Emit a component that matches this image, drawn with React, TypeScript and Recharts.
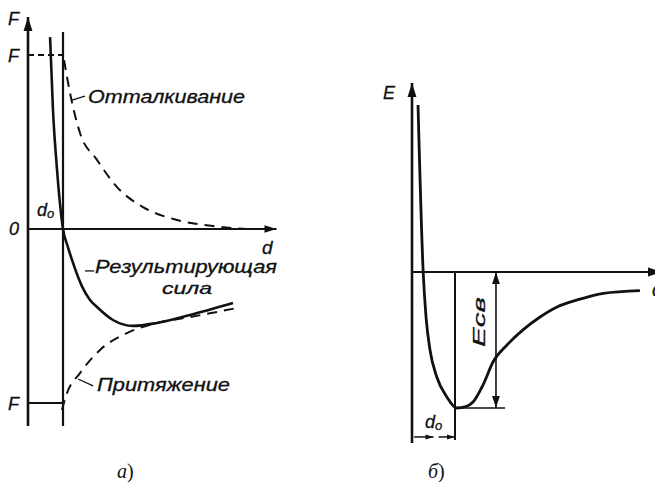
import React from 'react';
import { LineChart, Line, XAxis, YAxis, ReferenceLine } from 'recharts';

// Panel a: forces vs distance (d0 = 1, F = 10)
const resultantD = [0.63, 0.714, 0.83, 1.0, 1.143, 1.286, 1.543, 1.771, 1.971, 2.429, 3.0, 3.686, 4.629, 5.857];
const resultantF = [11.03, 6.84, 3.39, 0, -1.05, -1.95, -3.3, -4.08, -4.48, -5.23, -5.57, -5.4, -4.94, -4.25];
const repulsionD = [1.03, 1.2, 1.486, 1.971, 2.543, 3.286, 4.257, 5.286, 6.257];
const repulsionF = [9.71, 7.82, 5.52, 3.97, 2.41, 1.26, 0.52, 0.17, 0.0];
const attractionD = [0.97, 1.114, 1.486, 2.057, 2.829, 3.686, 4.629, 5.971];
const attractionF = [-10.4, -9.43, -8.28, -6.95, -5.98, -5.4, -5.06, -4.54];
const forceLevel = 10;

// Panel b: energy vs distance (d0 = 1, Eсв = 1)
const energyD = [0.14, 0.26, 0.326, 0.419, 0.574, 0.806, 1.04, 1.25, 1.419, 1.651, 1.884, 2.209, 2.581, 2.977, 3.372, 3.9, 4.45, 5.3];
const energyE = [1.228, 0, -0.329, -0.574, -0.77, -0.917, -1.0, -0.99, -0.956, -0.831, -0.662, -0.537, -0.426, -0.331, -0.257, -0.2, -0.157, -0.137];
const bindingEnergy = 1;

const zip = (xs: number[], ys: number[]) => xs.map((d, i) => ({ d, v: ys[i] }));

const INK = '#111';

// line with optional arrowheads, used as ReferenceLine shape
const arrowLine = (atStart: boolean, atEnd: boolean, width = 2.2, head = 10) => (p: any) => {
  const { x1, y1, x2, y2 } = p;
  const ang = Math.atan2(y2 - y1, x2 - x1);
  const tri = (x: number, y: number, a: number) => {
    const w = head * 0.32;
    const bx = x - head * Math.cos(a);
    const by = y - head * Math.sin(a);
    const nx = -Math.sin(a) * w;
    const ny = Math.cos(a) * w;
    return `${x},${y} ${bx + nx},${by + ny} ${bx - nx},${by - ny}`;
  };
  return (
    <g>
      <line x1={x1} y1={y1} x2={x2} y2={y2} stroke={INK} strokeWidth={width} />
      {atEnd && <polygon points={tri(x2, y2, ang)} fill={INK} />}
      {atStart && <polygon points={tri(x1, y1, ang + Math.PI)} fill={INK} />}
    </g>
  );
};

const txt: React.CSSProperties = {
  fontFamily: 'Liberation Sans, Arial, sans-serif',
  fontStyle: 'italic',
  fill: INK,
  stroke: INK,
  strokeWidth: 0.3,
};

export default function App() {
  const aMin = -11.322;
  const aMax = 12.184;
  const aX = 7.4286;
  const bMin = -1.2574;
  const bMax = 1.3897;
  const bX = 5.814;

  return (
    <div style={{ position: 'relative', width: 663, height: 490, margin: -8, background: '#fff', overflow: 'hidden' }}>
      <div style={{ position: 'absolute', left: 0, top: 0 }}>
        <LineChart width={300} height={440} margin={{ top: 17, left: 28, right: 12, bottom: 14 }}>
          <XAxis type="number" dataKey="d" domain={[0, aX]} allowDataOverflow hide />
          <YAxis type="number" dataKey="v" domain={[aMin, aMax]} allowDataOverflow hide />
          <ReferenceLine segment={[{ x: 0, y: aMin }, { x: 0, y: aMax }]} ifOverflow="visible" shape={arrowLine(false, true, 2.6, 14)} />
          <ReferenceLine segment={[{ x: 1, y: aMin }, { x: 1, y: 11.32 }]} ifOverflow="visible" stroke={INK} strokeWidth={2.2} />
          <ReferenceLine segment={[{ x: 0, y: 0 }, { x: 7.1, y: 0 }]} ifOverflow="visible" shape={arrowLine(false, true, 2.2, 12)} />
          <ReferenceLine segment={[{ x: 0, y: forceLevel }, { x: 1, y: forceLevel }]} ifOverflow="visible" stroke={INK} strokeWidth={1.8} strokeDasharray="6 4" />
          <ReferenceLine segment={[{ x: 0, y: -forceLevel }, { x: 1, y: -forceLevel }]} ifOverflow="visible" stroke={INK} strokeWidth={1.8} />
          <ReferenceLine segment={[{ x: 1.257, y: 7.41 }, { x: 1.629, y: 7.64 }]} ifOverflow="visible" stroke={INK} strokeWidth={1.3} />
          <ReferenceLine segment={[{ x: 1.63, y: -2.41 }, { x: 1.89, y: -2.41 }]} ifOverflow="visible" stroke={INK} strokeWidth={1.3} />
          <ReferenceLine segment={[{ x: 1.43, y: -8.62 }, { x: 1.86, y: -9.02 }]} ifOverflow="visible" stroke={INK} strokeWidth={1.3} />
          <Line data={zip(resultantD, resultantF)} dataKey="v" type="monotone" stroke={INK} strokeWidth={2.6} dot={false} isAnimationActive={false} />
          <Line data={zip(repulsionD, repulsionF)} dataKey="v" type="monotone" stroke={INK} strokeWidth={2} strokeDasharray="10 7" dot={false} isAnimationActive={false} />
          <Line data={zip(attractionD, attractionF)} dataKey="v" type="monotone" stroke={INK} strokeWidth={2} strokeDasharray="10 7" dot={false} isAnimationActive={false} />
        </LineChart>
      </div>

      <div style={{ position: 'absolute', left: 380, top: 0 }}>
        <LineChart width={283} height={460} margin={{ top: 83, left: 32, right: 1, bottom: 17 }}>
          <XAxis type="number" dataKey="d" domain={[0, bX]} allowDataOverflow hide />
          <YAxis type="number" dataKey="v" domain={[bMin, bMax]} allowDataOverflow hide />
          <ReferenceLine segment={[{ x: 0, y: bMin }, { x: 0, y: bMax }]} ifOverflow="visible" shape={arrowLine(false, true, 2.6, 14)} />
          <ReferenceLine segment={[{ x: 0, y: 0 }, { x: bX, y: 0 }]} ifOverflow="visible" shape={arrowLine(false, true, 2, 14)} />
          <ReferenceLine segment={[{ x: 1, y: 0 }, { x: 1, y: -1.235 }]} ifOverflow="visible" stroke={INK} strokeWidth={2} />
          <ReferenceLine segment={[{ x: 1.953, y: 0 }, { x: 1.953, y: -bindingEnergy }]} ifOverflow="visible" shape={arrowLine(true, true, 1.6, 12)} />
          <ReferenceLine segment={[{ x: 1, y: -bindingEnergy }, { x: 2.163, y: -bindingEnergy }]} ifOverflow="visible" stroke={INK} strokeWidth={1.6} />
          <ReferenceLine segment={[{ x: 0.05, y: -1.213 }, { x: 0.5, y: -1.213 }]} ifOverflow="visible" shape={arrowLine(false, true, 1.5, 8)} />
          <ReferenceLine segment={[{ x: 0.62, y: -1.213 }, { x: 1.0, y: -1.213 }]} ifOverflow="visible" shape={arrowLine(false, true, 1.5, 8)} />
          <Line data={zip(energyD, energyE)} dataKey="v" type="monotone" stroke={INK} strokeWidth={2.8} dot={false} isAnimationActive={false} />
        </LineChart>
      </div>

      <svg width={663} height={490} style={{ position: 'absolute', left: 0, top: 0, pointerEvents: 'none' }}>
        {/* panel a */}
        <text x={8} y={25} fontSize={18} style={txt}>F</text>
        <text x={8} y={62} fontSize={18} style={txt}>F</text>
        <text x={9} y={235} fontSize={18} style={txt}>0</text>
        <text x={8} y={410} fontSize={18} style={txt}>F</text>
        <text x={37} y={216} fontSize={18} style={txt}>d<tspan fontSize={13} dy={2}>o</tspan></text>
        <text x={262} y={254} fontSize={19} style={txt}>d</text>
        <text x={88} y={103} fontSize={18} textLength={157} lengthAdjust="spacingAndGlyphs" style={txt}>Отталкивание</text>
        <text x={95} y={273} fontSize={18} textLength={182} lengthAdjust="spacingAndGlyphs" style={txt}>Результирующая</text>
        <text x={162} y={294} fontSize={17} textLength={50} lengthAdjust="spacingAndGlyphs" style={txt}>сила</text>
        <text x={97} y={391} fontSize={18} textLength={133} lengthAdjust="spacingAndGlyphs" style={txt}>Притяжение</text>
        {/* panel b */}
        <text x={383} y={99} fontSize={18} style={txt}>E</text>
        <text x={425} y={428} fontSize={18} style={txt}>d<tspan fontSize={13} dy={2}>o</tspan></text>
        <text x={652} y={296} fontSize={19} style={txt}>d</text>
        <text x={0} y={0} fontSize={17} textLength={50} lengthAdjust="spacingAndGlyphs" textAnchor="middle" transform="translate(485 322) rotate(-90)" style={txt}>Eсв</text>
        {/* captions */}
        <text x={117} y={478} fontSize={20} style={{ fontFamily: 'Liberation Serif, serif', fill: INK }}><tspan fontStyle="italic">а</tspan>)</text>
        <text x={428} y={478} fontSize={20} style={{ fontFamily: 'Liberation Serif, serif', fill: INK }}><tspan fontStyle="italic">б</tspan>)</text>
      </svg>
    </div>
  );
}
